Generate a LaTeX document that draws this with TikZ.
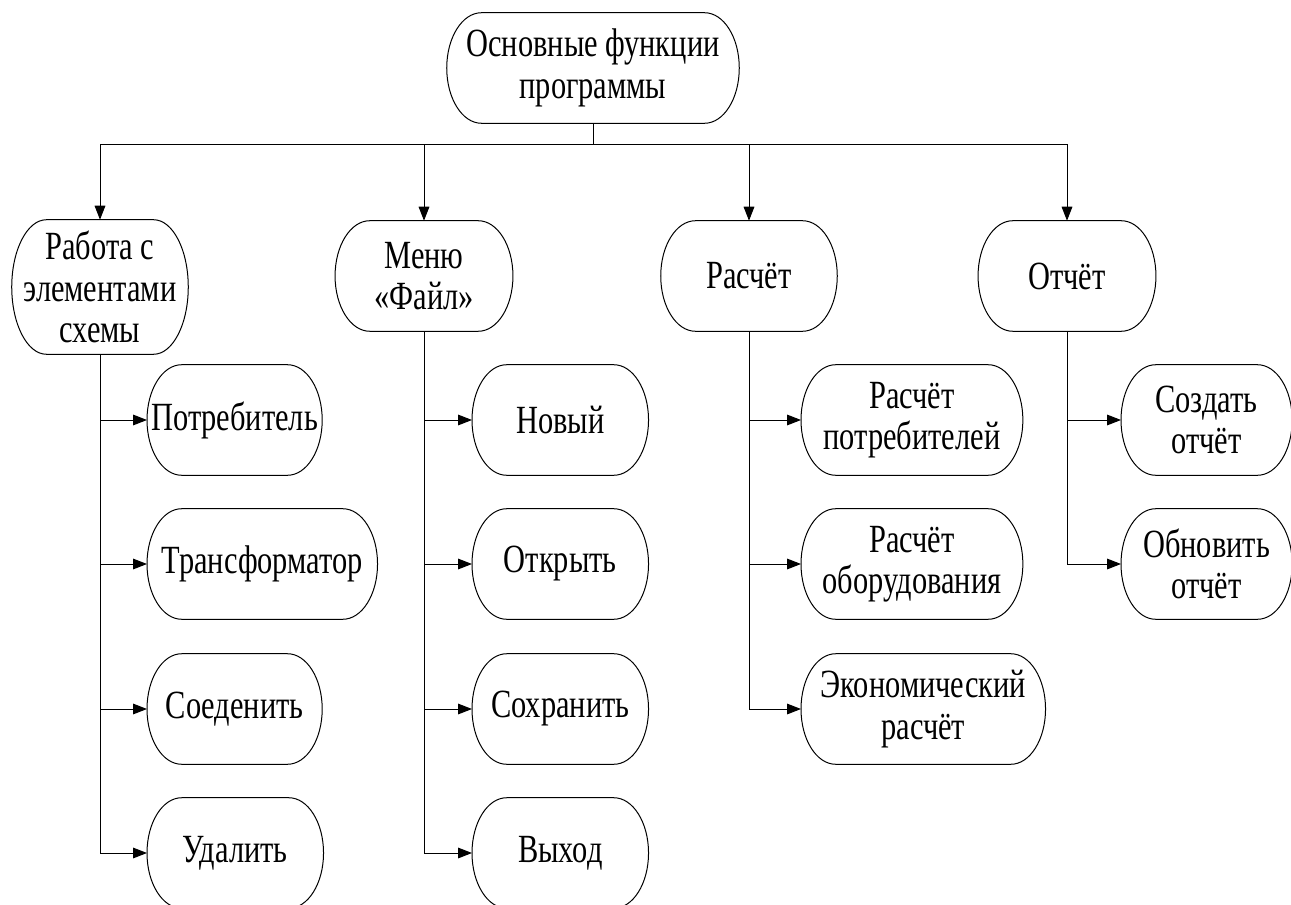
\documentclass[tikz,border=0pt]{standalone}
\usepackage{fontspec}
\setmainfont{Liberation Serif}
\usetikzlibrary{arrows.meta, positioning, calc}
% narrow text line, as in the scan
\newcommand\nrw[1]{\scalebox{0.76}[1]{#1}}
% outline with elliptic ends round a node
\newcommand\pillframe[1]{%
  \draw[line width=0.75pt] let \p1=(#1.north), \p2=(#1.south), \n1={(\y1-\y2)/2} in
    ([xshift=26pt]#1.north west) -- ([xshift=-26pt]#1.north east)
    arc[start angle=90, end angle=-90, x radius=26pt, y radius=\n1]
    -- ([xshift=26pt]#1.south west)
    arc[start angle=270, end angle=90, x radius=26pt, y radius=\n1] -- cycle;}
\tikzset{
  func/.style={inner sep=0pt, align=center, minimum height=82.5pt,
               font=\rmfamily\fontsize{30}{31}\selectfont,
               append after command={\pgfextra{\pillframe{\tikzlastnode}}}},
  leaf/.style={func, anchor=west},
  arrow/.style={-{Triangle[length=10.5pt, width=8pt]}, line width=0.75pt},
  link/.style={line width=0.75pt},
}
\begin{document}
\begin{tikzpicture}[x=0.75pt, y=-0.75pt]
  \useasboundingbox (0,0) rectangle (1291,905);
  \node[func, minimum width=219pt] (root) at (593,68) {\nrw{Основные функции}\\\nrw{программы}};

  \node[func, minimum width=132pt, minimum height=100.5pt] (work) at (100,287) {\nrw{Работа с}\\\nrw{элементами}\\\nrw{схемы}};
  \node[func, minimum width=133pt] (menu) at (424,276) {\nrw{Меню}\\\nrw{«Файл»}};
  \node[func, minimum width=132pt] (calc) at (749,276) {\nrw{Расчёт}};
  \node[func, minimum width=133pt] (report) at (1067,276) {\nrw{Отчёт}};

  \node[leaf, minimum width=131pt]   (consumer) at (147,420) {\nrw{Потребитель}};
  \node[leaf, minimum width=172.5pt] (transf)   at (147,564) {\nrw{Трансформатор}};
  \node[leaf, minimum width=131pt]   (connect)  at (147,709) {\nrw{Соеденить}};
  \node[leaf, minimum width=132pt]   (delete)   at (147,853) {\nrw{Удалить}};

  \node[leaf, minimum width=132pt] (new)   at (472,420) {\nrw{Новый}};
  \node[leaf, minimum width=132pt] (open)  at (472,564) {\nrw{Открыть}};
  \node[leaf, minimum width=132pt] (save)  at (472,709) {\nrw{Сохранить}};
  \node[leaf, minimum width=132pt] (quit)  at (472,853) {\nrw{Выход}};

  \node[leaf, minimum width=166pt] (calcload)  at (801,420) {\nrw{Расчёт}\\\nrw{потребителей}};
  \node[leaf, minimum width=166pt] (calcequip) at (801,564) {\nrw{Расчёт}\\\nrw{оборудования}};
  \node[leaf, minimum width=183pt] (calcecon)  at (801,709) {\nrw{Экономический}\\\nrw{расчёт}};

  \node[leaf, minimum width=128pt] (mkreport)  at (1121,420) {\nrw{Создать}\\\nrw{отчёт}};
  \node[leaf, minimum width=128pt] (updreport) at (1121,564) {\nrw{Обновить}\\\nrw{отчёт}};

  \coordinate[below=15.75pt of root.south] (bus);
  \draw[link] (root.south) -- (bus);
  \draw[arrow] (bus) -| (work);
  \draw[arrow] (bus) -| (menu);
  \draw[arrow] (bus) -| (calc);
  \draw[arrow] (bus) -| (report);

  \draw[arrow] (work.south) |- (consumer);
  \draw[arrow] (work.south) |- (transf);
  \draw[arrow] (work.south) |- (connect);
  \draw[arrow] (work.south) |- (delete);

  \draw[arrow] (menu.south) |- (new);
  \draw[arrow] (menu.south) |- (open);
  \draw[arrow] (menu.south) |- (save);
  \draw[arrow] (menu.south) |- (quit);

  \draw[arrow] (calc.south) |- (calcload);
  \draw[arrow] (calc.south) |- (calcequip);
  \draw[arrow] (calc.south) |- (calcecon);

  \draw[arrow] (report.south) |- (mkreport);
  \draw[arrow] (report.south) |- (updreport);
\end{tikzpicture}
\end{document}
